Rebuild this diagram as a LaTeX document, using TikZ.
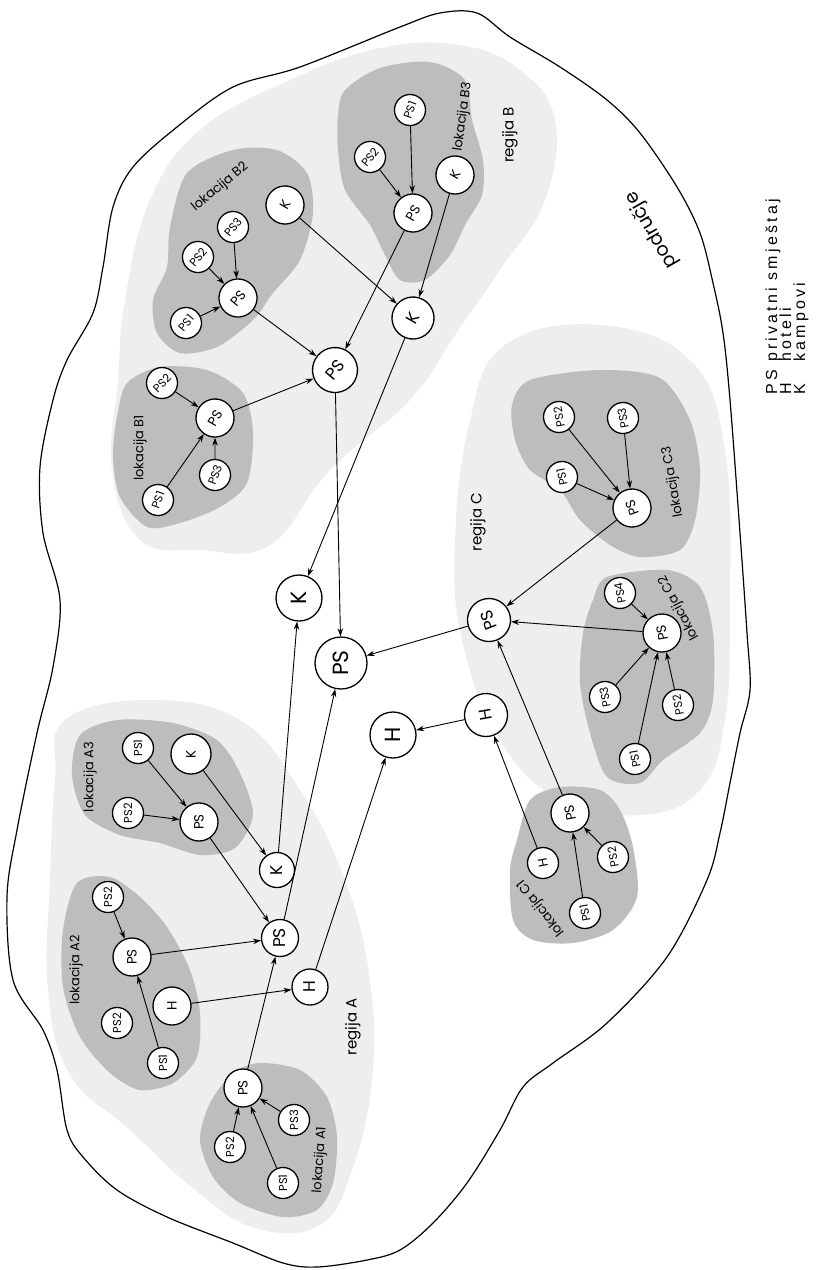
\documentclass[tikz,border=0pt]{standalone}
\usepackage{fontspec}
\setmainfont{Poppins}
\newfontfamily\legendfont[LetterSpace=20]{Liberation Sans}
\usetikzlibrary{arrows.meta}
\tikzset{
  unit/.style={circle,draw,fill=white,line width=1.3pt,inner sep=0pt,rotate=#1},
  src/.style={unit=#1,minimum size=31pt,font=\fontsize{11.5}{12}\selectfont},
  src/.default=90,
  loc/.style={unit=#1,minimum size=38pt,font=\fontsize{13.5}{14}\selectfont},
  loc/.default=90,
  reg/.style={unit=#1,minimum size=43pt,font=\fontsize{17}{17}\selectfont},
  reg/.default=90,
  hubtop/.style={unit=90,minimum size=46pt,font=\fontsize{22}{22}\selectfont},
  flow/.style={-{Stealth[length=8pt,width=5.5pt]},line width=0.9pt},
  zone/.style={fill=gray!13},
  blob/.style={fill=gray!52},
  tag/.style={font=\fontsize{13}{13}\selectfont,rotate=#1,inner sep=0pt},
  tag/.default=90,
  regtag/.style={font=\fontsize{15}{15}\selectfont,rotate=90,inner sep=0pt},
  legendtxt/.style={font=\legendfont\fontsize{16}{16}\selectfont,rotate=90,
    anchor=base west,inner sep=0pt},
}
\begin{document}
\begin{tikzpicture}[x=1pt,y=-1pt]
  \useasboundingbox (0,0) rectangle (818,1270);

  % light zones of the three regions
  \fill[zone] plot[smooth cycle,tension=.7] coordinates {(118,380) (125,300)
    (150,200) (200,130) (290,80) (380,48) (460,45) (520,70) (555,120)
    (545,200) (500,270) (455,335) (410,400) (330,470) (270,545) (200,550)
    (140,540) (112,470)};
  \fill[zone] plot[smooth cycle,tension=.7] coordinates {(505,345) (600,325)
    (690,360) (725,450) (730,600) (725,720) (700,790) (640,815) (560,800)
    (500,740) (462,640) (455,540) (470,420)};
  \fill[zone] plot[smooth cycle,tension=.7] coordinates {(65,720) (150,700)
    (240,720) (300,790) (345,880) (370,980) (372,1080) (352,1170) (320,1225)
    (255,1228) (195,1190) (130,1130) (70,1075) (48,990) (50,880) (55,780)};

  % dark blobs of the locations
  \fill[blob] plot[smooth cycle] coordinates {(187,173) (233,150) (277,150)
    (307,173) (313,213) (300,260) (273,293) (253,320) (217,347) (180,353)
    (157,333) (153,300) (167,267) (170,227)};
  \fill[blob] plot[smooth cycle] coordinates {(345,90) (380,68) (430,62)
    (465,80) (472,120) (483,160) (482,195) (465,225) (450,255) (425,280)
    (400,280) (385,255) (370,225) (345,190) (338,150) (338,115)};
  \fill[blob] plot[smooth cycle] coordinates {(127,383) (160,367) (207,370)
    (243,393) (253,433) (247,483) (220,507) (180,523) (147,527) (120,497)
    (113,457) (117,417)};
  \fill[blob] plot[smooth cycle] coordinates {(80,735) (117,720) (173,723)
    (217,740) (240,773) (253,815) (235,848) (200,855) (160,843) (120,835)
    (85,815) (72,775)};
  \fill[blob] plot[smooth cycle] coordinates {(77,883) (110,877) (140,897)
    (167,927) (190,970) (200,1013) (197,1057) (173,1083) (140,1090)
    (110,1073) (80,1037) (63,987) (63,930)};
  \fill[blob] plot[smooth cycle] coordinates {(233,1073) (260,1063)
    (300,1070) (327,1097) (337,1137) (333,1183) (317,1210) (283,1217)
    (240,1203) (213,1177) (200,1140) (210,1103)};
  \fill[blob] plot[smooth cycle] coordinates {(530,380) (600,370) (660,378)
    (690,420) (700,470) (695,520) (680,550) (640,557) (610,545) (580,520)
    (560,490) (530,470) (515,440) (512,405)};
  \fill[blob] plot[smooth cycle] coordinates {(593,600) (607,577) (667,570)
    (700,587) (713,633) (713,700) (700,733) (663,760) (640,783) (607,777)
    (590,733) (580,683) (583,633)};
  \fill[blob] plot[smooth cycle] coordinates {(530,800) (560,787) (600,790)
    (620,810) (633,847) (637,897) (613,930) (573,943) (533,940) (513,920)
    (510,870) (517,840)};

  % outline of the area
  \draw[line width=1.2pt] plot[smooth cycle,tension=.55] coordinates {
    (400,27) (440,13) (477,13) (510,37) (560,67) (607,100) (640,133)
    (677,187) (700,233) (713,283) (723,333) (730,400) (740,533) (747,633)
    (750,690) (740,733) (730,783) (720,833) (707,880) (667,957) (607,1023)
    (553,1063) (523,1087) (500,1130) (467,1183) (433,1223) (400,1250)
    (367,1260) (317,1267) (283,1263) (233,1243) (167,1217) (117,1190)
    (83,1157) (67,1130) (57,1070) (43,1030) (13,980) (7,897) (17,830)
    (37,733) (53,667) (60,600) (43,533) (40,467) (53,400) (67,360) (93,313)
    (103,267) (113,207) (133,167) (177,127) (233,87) (300,67)};

  % region B
  \node[loc=60] (b2k) at (285,205) {K};
  \node[src=50] (b2ps3) at (233,227) {PS3};
  \node[src=50] (b2ps2) at (198,257) {PS2};
  \node[loc=50] (b2ps) at (238,298) {PS};
  \node[src=50] (b2ps1) at (186,323) {PS1};
  \node[src=70] (b3ps1) at (410,110) {PS1};
  \node[src=50] (b3ps2) at (370,157) {PS2};
  \node[loc=60] (b3ps) at (413,213) {PS};
  \node[loc=60] (b3k) at (455,175) {K};
  \node[src=45] (b1ps2) at (162,383) {PS2};
  \node[loc=60] (b1ps) at (215,418) {PS};
  \node[src=70] (b1ps1) at (158,500) {PS1};
  \node[src=70] (b1ps3) at (215,475) {PS3};
  \node[reg=50,minimum size=45pt] (bps) at (335,370) {PS};
  \node[reg=60,minimum size=42pt] (bk) at (413,318) {K};

  % top level
  \node[hubtop] (tk) at (299,598) {K};
  \node[hubtop,minimum size=52pt] (tps) at (341,663) {PS};
  \node[hubtop] (th) at (393,735) {H};

  % region C
  \node[src=100] (c3ps2) at (559,417) {PS2};
  \node[src=100] (c3ps3) at (623,418) {PS3};
  \node[src=100] (c3ps1) at (562,477) {PS1};
  \node[loc=110] (c3ps) at (632,508) {PS};
  \node[reg=110] (cps) at (489,620) {PS};
  \node[src=100] (c2ps4) at (620,593) {PS4};
  \node[loc=100] (c2ps) at (662,633) {PS};
  \node[src=100] (c2ps3) at (605,697) {PS3};
  \node[src=100] (c2ps2) at (678,705) {PS2};
  \node[src=100] (c2ps1) at (635,759) {PS1};
  \node[reg=100] (ch) at (486,715) {H};
  \node[loc=100] (c1ps) at (570,813) {PS};
  \node[src=100,font=\fontsize{13}{13}\selectfont] (c1h) at (543,863) {H};
  \node[src=100] (c1ps2) at (613,857) {PS2};
  \node[src=100] (c1ps1) at (585,913) {PS1};

  % region A
  \node[src] (a3ps1) at (138,748) {PS1};
  \node[loc,minimum size=40pt] (a3k) at (191,754) {K};
  \node[src] (a3ps2) at (128,813) {PS2};
  \node[loc] (a3ps) at (199,822) {PS};
  \node[reg,minimum size=35pt] (ak) at (277,870) {K};
  \node[reg,minimum size=37pt] (aps) at (280,938) {PS};
  \node[reg,minimum size=36pt] (ah) at (310,987) {H};
  \node[src] (a2ps2) at (108,897) {PS2};
  \node[loc] (a2ps) at (132,957) {PS};
  \node[loc] (a2h) at (172,1006) {H};
  \node[src] (a2ps2b) at (117,1023) {PS2};
  \node[src] (a2ps1) at (163,1063) {PS1};
  \node[loc] (a1ps) at (243,1088) {PS};
  \node[src] (a1ps2) at (230,1147) {PS2};
  \node[src] (a1ps3) at (294,1120) {PS3};
  \node[src] (a1ps1) at (283,1183) {PS1};

  \foreach \from/\to in {b2ps1/b2ps,b2ps2/b2ps,b2ps3/b2ps,b2ps/bps,b2k/bk,
      b3ps2/b3ps,b3ps1/b3ps,b3ps/bps,b3k/bk,
      b1ps2/b1ps,b1ps1/b1ps,b1ps3/b1ps,b1ps/bps,bps/tps,bk/tk,
      c3ps1/c3ps,c3ps2/c3ps,c3ps3/c3ps,c3ps/cps,
      c2ps4/c2ps,c2ps3/c2ps,c2ps1/c2ps,c2ps2/c2ps,c2ps/cps,
      c1ps2/c1ps,c1ps1/c1ps,c1ps/cps,c1h/ch,cps/tps,ch/th,
      a3ps1/a3ps,a3ps2/a3ps,a3ps/aps,a3k/ak,
      a2ps2/a2ps,a2ps1/a2ps,a2ps/aps,a2h/ah,
      a1ps2/a1ps,a1ps1/a1ps,a1ps3/a1ps,a1ps/aps,aps/tps,ak/tk,ah/th}
    \draw[flow] (\from) -- (\to);

  % labels
  \node[tag=40] (lb2) at (220,187) {lokacija B2};
  \node[tag=82] (lb3) at (463,117) {lokacija B3};
  \node[tag] (lb1) at (140,448) {lokacija B1};
  \node[regtag] (rb) at (510,135) {regija B};
  \node[tag=100] (lc3) at (673,482) {lokacija C3};
  \node[tag=118] (lc2) at (679,608) {lokacija C2};
  \node[tag=128] (lc1) at (541,908) {lokacija C1};
  \node[regtag] (rc) at (478,522) {regija C};
  \node[tag] (la3) at (90,777) {lokacija A3};
  \node[tag] (la2) at (76,970) {lokacija A2};
  \node[tag=86] (la1) at (320,1160) {lokacija A1};
  \node[regtag] (ra) at (353,1027) {regija A};
  \node[font=\fontsize{19}{19}\selectfont,rotate=120,inner sep=0pt]
    (area) at (652,230) {područje};

  % legend
  \node[legendtxt] (lgkps) at (777,395) {PS};
  \node[legendtxt] (lgtps) at (777,362) {privatni smještaj};
  \node[legendtxt] (lgkh) at (791,395) {H};
  \node[legendtxt] (lgth) at (791,362) {hoteli};
  \node[legendtxt] (lgkk) at (805,395) {K};
  \node[legendtxt] (lgtk) at (805,362) {kampovi};
\end{tikzpicture}
\end{document}
